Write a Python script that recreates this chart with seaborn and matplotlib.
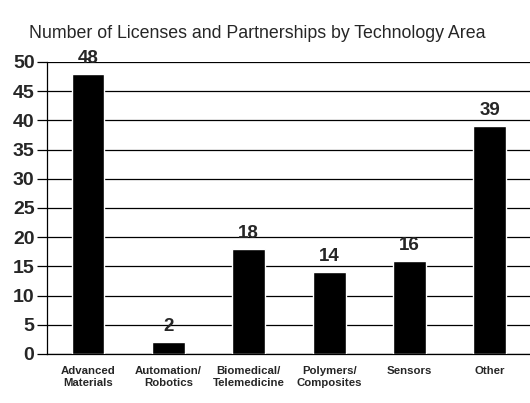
import matplotlib
matplotlib.use("Agg")
import matplotlib.pyplot as plt
import seaborn as sns
import pandas as pd

categories = ["Advanced\nMaterials", "Automation/\nRobotics", "Biomedical/\nTelemedicine",
              "Polymers/\nComposites", "Sensors", "Other"]
counts = [48, 2, 18, 14, 16, 39]
y_ticks = [0, 5, 10, 15, 20, 25, 30, 35, 40, 45, 50]

sns.set_theme(style="white")
plt.rcParams["font.family"] = ["Liberation Sans", "DejaVu Sans"]

df = pd.DataFrame({"area": categories, "count": counts})

fig = plt.figure(figsize=(5.30, 4.03), dpi=100)
ax = fig.add_axes([47 / 530, 1 - 354 / 403, 1 - 47 / 530, (354 - 62) / 403])

sns.barplot(data=df, x="area", y="count", color="black", width=0.41,
            saturation=1, ax=ax, zorder=3)

ax.set_ylim(0, 50)
ax.set_xlim(-0.51, 5.5)
ax.set_yticks(y_ticks)
ax.set_yticklabels([str(t) for t in y_ticks], fontsize=14, fontweight="bold")
ax.yaxis.grid(True, color="black", linewidth=0.9, zorder=0)
ax.set_axisbelow(True)

for i, v in enumerate(counts):
    ax.text(i, v + 1.2, str(v), ha="center", va="bottom",
            fontsize=13.5, fontweight="bold")

ax.set_xticks(range(len(categories)))
ax.set_xticklabels(categories, fontsize=8.2, fontweight="bold", va="top",
                   linespacing=1.25)
ax.tick_params(axis="x", length=0, pad=9)
ax.tick_params(axis="y", length=7, width=0.9, color="black", direction="out",
               left=True, pad=2)

for side in ["top", "right"]:
    ax.spines[side].set_visible(False)
ax.spines["left"].set_color("black")
ax.spines["left"].set_linewidth(0.9)
ax.spines["bottom"].set_color("black")
ax.spines["bottom"].set_linewidth(0.9)

ax.set_xlabel("")
ax.set_ylabel("")
fig.text(0.485, 1 - 34 / 403, "Number of Licenses and Partnerships by Technology Area",
         ha="center", va="center", fontsize=12.8)

fig.savefig("out.png", dpi=100, facecolor="white")
